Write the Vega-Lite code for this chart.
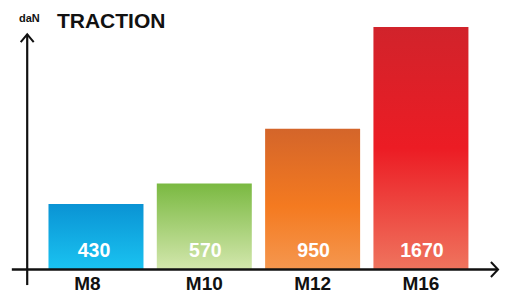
{
  "$schema": "https://vega.github.io/schema/vega-lite/v6.json",
  "width": 505,
  "height": 293,
  "autosize": "none",
  "padding": 0,
  "background": "white",
  "config": {"view": {"stroke": null}},
  "data": {"values": [
    {"size": "M8", "idx": 1, "traction": 430},
    {"size": "M10", "idx": 2, "traction": 570},
    {"size": "M12", "idx": 3, "traction": 950},
    {"size": "M16", "idx": 4, "traction": 1670}
  ]},
  "resolve": {"scale": {"x": "shared", "y": "shared"}},
  "layer": [
    {
      "transform": [{"filter": "datum.size === 'M8'"}],
      "mark": {"type": "bar", "width": 95, "fill": {"gradient": "linear", "x1": 0, "y1": 0, "x2": 0, "y2": 1, "stops": [{"offset": 0, "color": "#0a93d4"}, {"offset": 1, "color": "#1ac3f1"}]}},
      "encoding": {
        "x": {"field": "idx", "type": "quantitative", "axis": null, "scale": {"type": "linear", "domain": [0.16, 4.73], "nice": false, "zero": false}},
        "y": {"field": "traction", "type": "quantitative", "axis": null, "scale": {"type": "pow", "exponent": 0.965, "domain": [-148.7, 1862.9], "nice": false, "zero": false}},
        "y2": {"datum": 0}
      }
    },
    {
      "transform": [{"filter": "datum.size === 'M10'"}],
      "mark": {"type": "bar", "width": 95, "fill": {"gradient": "linear", "x1": 0, "y1": 0, "x2": 0, "y2": 1, "stops": [{"offset": 0, "color": "#7ab941"}, {"offset": 1, "color": "#d3e7ad"}]}},
      "encoding": {
        "x": {"field": "idx", "type": "quantitative", "axis": null, "scale": {"type": "linear", "domain": [0.16, 4.73], "nice": false, "zero": false}},
        "y": {"field": "traction", "type": "quantitative", "axis": null, "scale": {"type": "pow", "exponent": 0.965, "domain": [-148.7, 1862.9], "nice": false, "zero": false}},
        "y2": {"datum": 0}
      }
    },
    {
      "transform": [{"filter": "datum.size === 'M12'"}],
      "mark": {"type": "bar", "width": 95, "fill": {"gradient": "linear", "x1": 0, "y1": 0, "x2": 0, "y2": 1, "stops": [{"offset": 0, "color": "#d4652a"}, {"offset": 0.55, "color": "#f47a20"}, {"offset": 1, "color": "#f5974f"}]}},
      "encoding": {
        "x": {"field": "idx", "type": "quantitative", "axis": null, "scale": {"type": "linear", "domain": [0.16, 4.73], "nice": false, "zero": false}},
        "y": {"field": "traction", "type": "quantitative", "axis": null, "scale": {"type": "pow", "exponent": 0.965, "domain": [-148.7, 1862.9], "nice": false, "zero": false}},
        "y2": {"datum": 0}
      }
    },
    {
      "transform": [{"filter": "datum.size === 'M16'"}],
      "mark": {"type": "bar", "width": 95, "fill": {"gradient": "linear", "x1": 0, "y1": 0, "x2": 0, "y2": 1, "stops": [{"offset": 0, "color": "#d1232b"}, {"offset": 0.5, "color": "#ec1c24"}, {"offset": 1, "color": "#ef745e"}]}},
      "encoding": {
        "x": {"field": "idx", "type": "quantitative", "axis": null, "scale": {"type": "linear", "domain": [0.16, 4.73], "nice": false, "zero": false}},
        "y": {"field": "traction", "type": "quantitative", "axis": null, "scale": {"type": "pow", "exponent": 0.965, "domain": [-148.7, 1862.9], "nice": false, "zero": false}},
        "y2": {"datum": 0}
      }
    },
    {
      "data": {"values": [{}]},
      "mark": {"type": "rule", "strokeWidth": 2.5, "color": "#111111"},
      "encoding": {
        "x": {"datum": 0.223, "type": "quantitative", "axis": null, "scale": {"type": "linear", "domain": [0.16, 4.73], "nice": false, "zero": false}},
        "x2": {"datum": 4.712},
        "y": {"datum": 0, "type": "quantitative", "axis": null, "scale": {"type": "pow", "exponent": 0.965, "domain": [-148.7, 1862.9], "nice": false, "zero": false}}
      }
    },
    {
      "data": {"values": [{}]},
      "mark": {"type": "rule", "strokeWidth": 2.2, "color": "#111111"},
      "encoding": {
        "x": {"datum": 0.365, "type": "quantitative", "axis": null, "scale": {"type": "linear", "domain": [0.16, 4.73], "nice": false, "zero": false}},
        "y": {"datum": 1618, "type": "quantitative", "axis": null, "scale": {"type": "pow", "exponent": 0.965, "domain": [-148.7, 1862.9], "nice": false, "zero": false}},
        "y2": {"datum": -97}
      }
    },
    {
      "data": {"values": [{}]},
      "mark": {"type": "point", "shape": "M-1,1.2L0,0L1,1.2", "size": 169, "filled": false, "strokeWidth": 2, "color": "#111111", "opacity": 1},
      "encoding": {
        "x": {"datum": 0.365, "type": "quantitative", "axis": null, "scale": {"type": "linear", "domain": [0.16, 4.73], "nice": false, "zero": false}},
        "y": {"datum": 1618, "type": "quantitative", "axis": null, "scale": {"type": "pow", "exponent": 0.965, "domain": [-148.7, 1862.9], "nice": false, "zero": false}}
      }
    },
    {
      "data": {"values": [{}]},
      "mark": {"type": "point", "shape": "M-0.95,-1L0,0L-0.95,1", "size": 225, "filled": false, "strokeWidth": 2, "color": "#111111", "opacity": 1},
      "encoding": {
        "x": {"datum": 4.712, "type": "quantitative", "axis": null, "scale": {"type": "linear", "domain": [0.16, 4.73], "nice": false, "zero": false}},
        "y": {"datum": 0, "type": "quantitative", "axis": null, "scale": {"type": "pow", "exponent": 0.965, "domain": [-148.7, 1862.9], "nice": false, "zero": false}}
      }
    },
    {
      "transform": [{"filter": "datum.size !== 'M8'"}],
      "mark": {"type": "text", "color": "white", "font": "Liberation Sans", "fontWeight": "bold", "fontSize": 19.5, "baseline": "alphabetic", "align": "center", "dy": -12, "dx": 1},
      "encoding": {
        "x": {"field": "idx", "type": "quantitative", "axis": null, "scale": {"type": "linear", "domain": [0.16, 4.73], "nice": false, "zero": false}},
        "y": {"datum": 0, "type": "quantitative", "axis": null, "scale": {"type": "pow", "exponent": 0.965, "domain": [-148.7, 1862.9], "nice": false, "zero": false}},
        "text": {"field": "traction", "type": "quantitative"}
      }
    },
    {
      "transform": [{"filter": "datum.size === 'M8'"}],
      "mark": {"type": "text", "color": "white", "font": "Liberation Sans", "fontWeight": "bold", "fontSize": 19.5, "baseline": "alphabetic", "align": "center", "dy": -12, "dx": -2},
      "encoding": {
        "x": {"field": "idx", "type": "quantitative", "axis": null, "scale": {"type": "linear", "domain": [0.16, 4.73], "nice": false, "zero": false}},
        "y": {"datum": 0, "type": "quantitative", "axis": null, "scale": {"type": "pow", "exponent": 0.965, "domain": [-148.7, 1862.9], "nice": false, "zero": false}},
        "text": {"field": "traction", "type": "quantitative"}
      }
    },
    {
      "transform": [{"filter": "datum.size !== 'M8'"}],
      "mark": {"type": "text", "color": "#111111", "font": "Liberation Sans", "fontWeight": "bold", "fontSize": 19, "baseline": "alphabetic", "align": "center", "dy": 20.5},
      "encoding": {
        "x": {"field": "idx", "type": "quantitative", "axis": null, "scale": {"type": "linear", "domain": [0.16, 4.73], "nice": false, "zero": false}},
        "y": {"datum": 0, "type": "quantitative", "axis": null, "scale": {"type": "pow", "exponent": 0.965, "domain": [-148.7, 1862.9], "nice": false, "zero": false}},
        "text": {"field": "size", "type": "nominal"}
      }
    },
    {
      "transform": [{"filter": "datum.size === 'M8'"}],
      "mark": {"type": "text", "color": "#111111", "font": "Liberation Sans", "fontWeight": "bold", "fontSize": 19, "baseline": "alphabetic", "align": "center", "dy": 20.5, "dx": -8.5},
      "encoding": {
        "x": {"field": "idx", "type": "quantitative", "axis": null, "scale": {"type": "linear", "domain": [0.16, 4.73], "nice": false, "zero": false}},
        "y": {"datum": 0, "type": "quantitative", "axis": null, "scale": {"type": "pow", "exponent": 0.965, "domain": [-148.7, 1862.9], "nice": false, "zero": false}},
        "text": {"field": "size", "type": "nominal"}
      }
    },
    {
      "data": {"values": [{"label": "daN"}]},
      "mark": {"type": "text", "color": "#111111", "font": "Liberation Sans", "fontWeight": "bold", "fontSize": 11, "baseline": "alphabetic", "align": "center"},
      "encoding": {
        "x": {"datum": 0.385, "type": "quantitative", "axis": null, "scale": {"type": "linear", "domain": [0.16, 4.73], "nice": false, "zero": false}},
        "y": {"datum": 1705.6, "type": "quantitative", "axis": null, "scale": {"type": "pow", "exponent": 0.965, "domain": [-148.7, 1862.9], "nice": false, "zero": false}},
        "text": {"field": "label", "type": "nominal"}
      }
    },
    {
      "data": {"values": [{"label": "TRACTION"}]},
      "mark": {"type": "text", "color": "#111111", "font": "Liberation Sans", "fontWeight": "bold", "fontSize": 21, "baseline": "alphabetic", "align": "left"},
      "encoding": {
        "x": {"datum": 0.6396, "type": "quantitative", "axis": null, "scale": {"type": "linear", "domain": [0.16, 4.73], "nice": false, "zero": false}},
        "y": {"datum": 1663, "type": "quantitative", "axis": null, "scale": {"type": "pow", "exponent": 0.965, "domain": [-148.7, 1862.9], "nice": false, "zero": false}},
        "text": {"field": "label", "type": "nominal"}
      }
    }
  ]
}
